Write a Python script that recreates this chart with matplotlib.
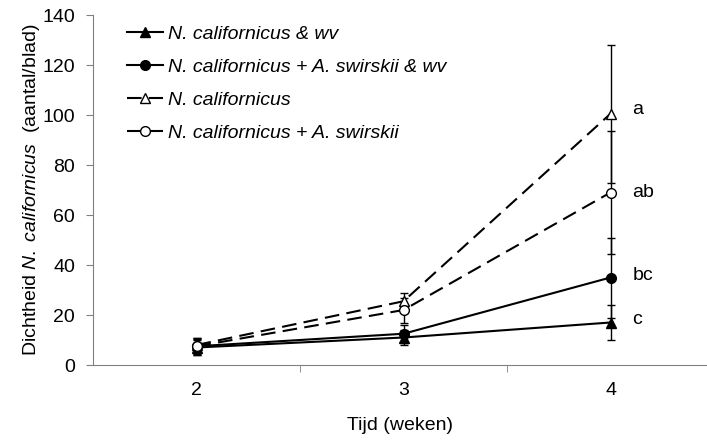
import matplotlib
matplotlib.use("Agg")
import matplotlib.pyplot as plt

plt.rcParams['font.family'] = ['Liberation Sans', 'DejaVu Sans']
plt.rcParams['mathtext.fontset'] = 'custom'
plt.rcParams['mathtext.rm'] = 'Liberation Sans'
plt.rcParams['mathtext.it'] = 'Liberation Sans:italic'

weeks = [2, 3, 4]
labels = ['N. californicus & wv',
          'N. californicus + A. swirskii & wv',
          'N. californicus',
          'N. californicus + A. swirskii']
means = [[7, 11, 17],
         [7.5, 12.5, 35],
         [8, 25.5, 100.5],
         [7.5, 22, 69]]
errors = [[3, 3, 7],
          [3.5, 3.5, 16],
          [3, 3.5, 27.5],
          [3, 5, 24.5]]
letters = ['c', 'bc', 'a', 'ab']
letter_y = [18, 36, 102, 69]

markers = ['^', 'o', '^', 'o']
faces = ['black', 'black', 'white', 'white']
styles = ['-', '-', (0, (7, 3.5)), (0, (7, 3.5))]

fs = 14
fig = plt.figure(figsize=(7.07, 4.43), dpi=100)
ax = fig.add_axes([93 / 707, 78 / 443, 1 - 93 / 707, 350 / 443])

handles = []
for m, e, mk, fc, ls, lab in zip(means, errors, markers, faces, styles, labels):
    h = ax.errorbar(weeks, m, yerr=e, color='black', marker=mk, mfc=fc, mec='black',
                    ms=7, lw=1.5, ls=ls, capsize=3, elinewidth=1, capthick=1, label=lab)
    handles.append(h)

for ly, t in zip(letter_y, letters):
    ax.text(4.105, ly, t, fontsize=fs, ha='left', va='center')

ax.set_xlim(1.5, 1.5 + 614 / 207)
ax.set_ylim(0, 140)
ax.set_yticks(range(0, 141, 20))
ax.set_xticks(weeks)
ax.set_xticks([2.5, 3.5], minor=True)
ax.tick_params(axis='x', which='major', length=0, pad=12, labelsize=fs)
ax.tick_params(axis='x', which='minor', length=5, color='#808080', direction='out')
ax.tick_params(axis='y', length=5, color='#808080', labelsize=fs, pad=8)
for s in ['top', 'right']:
    ax.spines[s].set_visible(False)
for s in ['left', 'bottom']:
    ax.spines[s].set_color('#808080')

ax.set_xlabel('Tijd (weken)', fontsize=fs, labelpad=13)
ax.set_ylabel(r'Dichtheid $\mathit{N.\ californicus}$  (aantal/blad)', fontsize=fs, labelpad=0)

leg = fig.legend(handles=[h[0] for h in handles], labels=labels, loc='upper left',
                 bbox_to_anchor=(127 / 707, 1 - 25 / 443), frameon=False, borderpad=0,
                 borderaxespad=0, handlelength=1.85, handletextpad=0.25, labelspacing=0.8,
                 prop={'size': fs, 'style': 'italic'})

fig.savefig('out.png', dpi=100)
